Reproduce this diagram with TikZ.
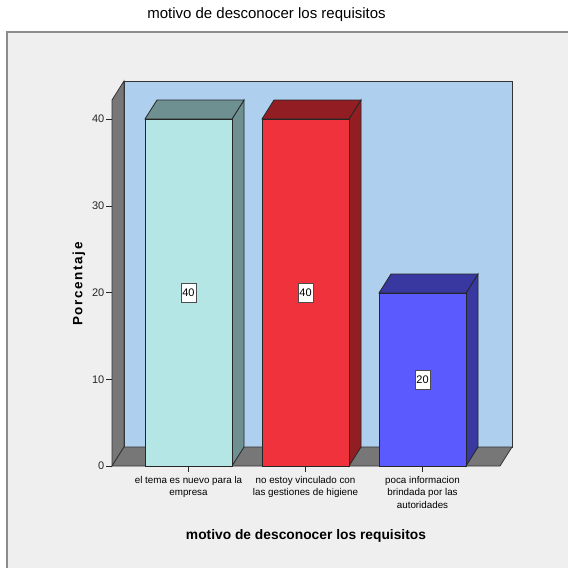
\documentclass[tikz,border=0pt]{standalone}
\usepackage{fontspec}
\setmainfont{Liberation Sans}
\usetikzlibrary{positioning}
\definecolor{wallblue}{HTML}{AECFEE}
\definecolor{sidegrey}{HTML}{777777}
\definecolor{panelgrey}{HTML}{EFEFEF}
\definecolor{framegrey}{HTML}{8C8C8C}
\definecolor{cyanfront}{HTML}{B4E6E6}
\definecolor{cyanside}{HTML}{6F9090}
\definecolor{redfront}{HTML}{F0323C}
\definecolor{redside}{HTML}{921E24}
\definecolor{bluefront}{HTML}{5A5AFF}
\definecolor{blueside}{HTML}{3838A0}

% bar: left x, top y, front colour, side colour, node name, value
\newcommand{\drawbar}[6]{%
  \filldraw[barline, fill=#4] (#1+87,#2) -- ++(12,-19) -- (#1+99,447) -- (#1+87,466) -- cycle;
  \filldraw[barline, fill=#4] (#1,#2) -- ++(12,-19) -- ++(87,0) -- ++(-12,19) -- cycle;
  \filldraw[barline, fill=#3] (#1,#2) rectangle (#1+87,466);
  \node[valbox] (#5) at (#1+43.5,{(#2+466)/2}) {#6};
}

\begin{document}
\begin{tikzpicture}[x=1pt, y=-1pt]
\tikzstyle{wall}=[draw=black!80, line width=0.8pt]
\tikzstyle{barline}=[draw=black!85, line width=0.8pt]
\tikzstyle{valbox}=[draw=black!70, fill=white, font=\fontsize{11}{12}\selectfont, inner xsep=1.5pt, minimum height=19pt]
\tikzstyle{catlabel}=[align=center, anchor=north, inner sep=1pt, font=\fontsize{9.8}{12.5}\selectfont]
\tikzstyle{ticklabel}=[anchor=east, inner sep=1.5pt, font=\fontsize{11}{12}\selectfont]

\useasboundingbox (0,0) rectangle (568,568);
\fill[white] (0,0) rectangle (568,568);
\fill[panelgrey] (7,32) rectangle (568,568);
\draw[framegrey, line width=1.8pt] (7,568) -- (7,32) -- (568,32);

\node (title) at (266.5,15) {\fontsize{15}{17}\selectfont motivo de desconocer los requisitos};

% back wall, side wall and floor
\filldraw[wall, fill=wallblue] (124,81) rectangle (512,447);
\filldraw[wall, fill=sidegrey] (112,100) -- (124,81) -- (124,447) -- (112,466) -- cycle;
\filldraw[wall, fill=sidegrey] (112,466) -- (124,447) -- (512,447) -- (500,466) -- cycle;

% y axis ticks
\foreach \v in {0,10,20,30,40}
  \draw[black!85] (106,466-8.675*\v) -- (112,466-8.675*\v) node[ticklabel, at start] (tick\v) {\v};

\drawbar{145}{119}{cyanfront}{cyanside}{val1}{40}
\drawbar{262}{119}{redfront}{redside}{val2}{40}
\drawbar{379}{293}{bluefront}{blueside}{val3}{20}

% categories
\foreach \c in {188.5,305.5,422.5}
  \draw[black!85] (\c,466) -- (\c,472);
\node[catlabel] (cat1) at (188.5,475) {el tema es nuevo para la\\empresa};
\node[catlabel] (cat2) at (305.5,475) {no estoy vinculado con\\las gestiones de higiene};
\node[catlabel] (cat3) at (422.5,475) {poca informacion\\brindada por las\\autoridades};

\node[font=\bfseries\fontsize{13.8}{16}\selectfont] (xtitle) at (306,536) {motivo de desconocer los requisitos};
\node[font=\bfseries\fontsize{13.5}{16}\selectfont\addfontfeatures{LetterSpace=12}, rotate=90] (ytitle) at (79,284) {Porcentaje};
\end{tikzpicture}
\end{document}
